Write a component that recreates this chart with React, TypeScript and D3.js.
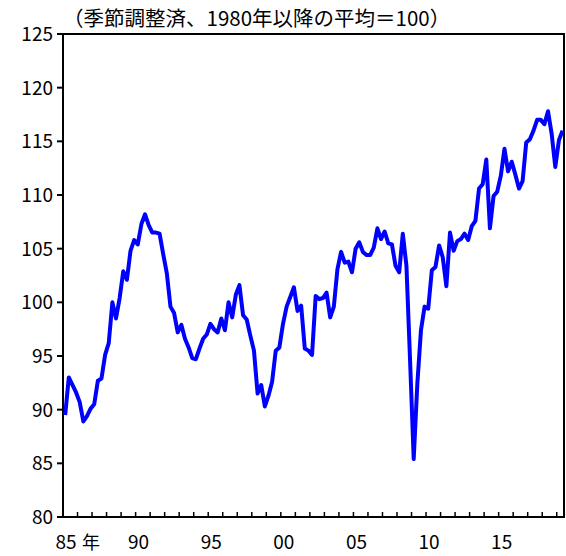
import * as d3 from "d3";

const TITLE = "（季節調整済、1980年以降の平均＝100）";
const START_YEAR = 1985;

// quarterly index, 1985Q1 onward
const VALUES = [
  89.5, 93.0, 92.3, 91.6, 90.7, 88.9, 89.4, 90.1, 90.5, 92.7,
  92.9, 95.1, 96.2, 100.0, 98.5, 100.4, 102.9, 102.1, 104.8, 105.8,
  105.4, 107.3, 108.2, 107.2, 106.5, 106.5, 106.4, 104.5, 102.7, 99.6,
  99.0, 97.2, 97.9, 96.6, 95.8, 94.8, 94.7, 95.7, 96.6, 97.0,
  98.0, 97.5, 97.2, 98.5, 97.4, 100.0, 98.6, 100.7, 101.6, 98.8,
  98.4, 96.9, 95.5, 91.5, 92.3, 90.3, 91.3, 92.6, 95.5, 95.8,
  98.0, 99.6, 100.5, 101.4, 99.2, 99.7, 95.7, 95.5, 95.1, 100.6,
  100.3, 100.4, 100.9, 98.6, 99.6, 103.1, 104.7, 103.7, 103.8, 102.8,
  105.0, 105.6, 104.7, 104.4, 104.4, 105.1, 106.9, 105.9, 106.6, 105.5,
  105.4, 103.4, 102.8, 106.4, 103.4, 94.6, 85.4, 92.4, 97.4, 99.6,
  99.4, 103.0, 103.3, 105.3, 104.2, 101.5, 106.5, 104.8, 105.7, 105.9,
  106.4, 105.8, 107.1, 107.6, 110.6, 111.0, 113.3, 106.9, 109.9, 110.3,
  111.8, 114.3, 112.2, 113.1, 111.9, 110.6, 111.3, 114.9, 115.2, 116.0,
  117.0, 117.0, 116.6, 117.8, 115.7, 112.6, 115.1, 116.0,
];

const Y_TICKS = [80, 85, 90, 95, 100, 105, 110, 115, 120, 125];
const X_LABEL_YEARS = [1985, 1990, 1995, 2000, 2005, 2010, 2015];
const X_LABELS = ["85", "90", "95", "00", "05", "10", "15"];

const W = 566;
const H = 556;
const LEFT = 63;
const RIGHT = 564;
const TOP = 34;
const BOTTOM = 517;
const FONT = "'Noto Sans CJK JP', 'Noto Sans', sans-serif";

export default function App() {
  const x = d3.scaleLinear().domain([1985, 2019.5]).range([LEFT, RIGHT]);
  const y = d3.scaleLinear().domain([80, 125]).range([BOTTOM, TOP]);

  const line = d3
    .line<number>()
    .x((_, i) => x(START_YEAR + (i + 0.6) / 4))
    .y((d) => y(d));

  const yearTicks = d3.range(1985, 2020);

  return (
    <svg
      width={W}
      height={H}
      style={{ position: "absolute", left: 0, top: 0, background: "#fff" }}
      fontFamily={FONT}
    >
      {/* title */}
      <text x={LEFT} y={26} fontSize={20.5} fill="#000">
        {TITLE}
      </text>

      {/* y ticks + labels */}
      {Y_TICKS.map((t) => (
        <g key={t}>
          <line x1={LEFT - 6} x2={LEFT} y1={y(t)} y2={y(t)} stroke="#000" strokeWidth={2} />
          <text
            x={LEFT - 10}
            y={y(t)}
            dy="0.36em"
            textAnchor="end"
            fontSize={19}
            fill="#000"
          >
            {t}
          </text>
        </g>
      ))}

      {/* x ticks (yearly, inward) */}
      {yearTicks.map((yr) => (
        <line
          key={yr}
          x1={x(yr)}
          x2={x(yr)}
          y1={BOTTOM}
          y2={BOTTOM - 5}
          stroke="#000"
          strokeWidth={1.5}
        />
      ))}

      {X_LABEL_YEARS.map((yr, i) => (
        <text
          key={yr}
          x={x(yr) + 3}
          y={549}
          textAnchor="middle"
          fontSize={19}
          fill="#000"
        >
          {X_LABELS[i]}
        </text>
      ))}
      <text x={x(1985) + 19} y={549} fontSize={18} fill="#000">
        年
      </text>

      {/* frame */}
      <rect
        x={LEFT}
        y={TOP}
        width={RIGHT - LEFT}
        height={BOTTOM - TOP}
        fill="none"
        stroke="#000"
        strokeWidth={2}
      />

      {/* series */}
      <path
        d={line(VALUES) ?? ""}
        fill="none"
        stroke="#0000ff"
        strokeWidth={4}
        strokeLinejoin="round"
      />
    </svg>
  );
}
